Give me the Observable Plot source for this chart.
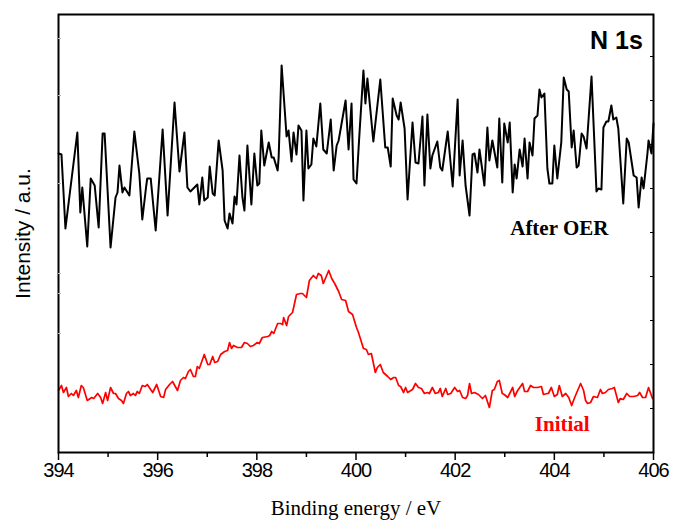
<!DOCTYPE html>
<html><head><meta charset="utf-8">
<script src="https://cdn.jsdelivr.net/npm/d3@7"></script>
<script src="https://cdn.jsdelivr.net/npm/@observablehq/plot@0.6"></script>
<style>
body{margin:0;background:#fff}
g[aria-label="x-axis tick label"] text{letter-spacing:-1px}
</style>
</head><body><div id="chart"></div>
<script>
// [binding energy (eV), intensity (a.u.)]
const afterOER = [
[394.00,299],[394.06,298],[394.14,224],[394.38,320],[394.44,240],[394.48,265],[394.58,206],[394.65,274],[394.73,267],[394.81,225],
[394.89,319],[394.93,319],[395.05,205],[395.15,255],[395.19,260],[395.23,287],[395.29,260],[395.33,265],[395.43,257],[395.53,321],
[395.63,279],[395.69,233],[395.77,267],[395.79,274],[395.86,274],[395.96,222],[396.10,323],[396.20,237],[396.34,350],[396.44,281],
[396.54,320],[396.60,265],[396.66,261],[396.72,264],[396.80,268],[396.84,248],[396.90,275],[396.94,252],[397.01,255],[397.05,286],
[397.11,259],[397.15,257],[397.23,312],[397.31,282],[397.35,232],[397.41,224],[397.45,239],[397.51,229],[397.55,256],[397.59,248],
[397.65,297],[397.71,255],[397.75,242],[397.81,307],[397.89,248],[397.95,299],[398.01,267],[398.05,269],[398.09,322],[398.15,287],
[398.24,310],[398.30,295],[398.34,295],[398.42,282],[398.44,295],[398.50,387],[398.60,316],[398.64,322],[398.70,291],[398.74,320],
[398.80,298],[398.84,327],[398.90,322],[398.94,252],[399.00,322],[399.04,284],[399.10,288],[399.14,314],[399.20,306],[399.28,349],
[399.34,303],[399.41,299],[399.49,333],[399.55,282],[399.61,307],[399.65,312],[399.79,352],[399.85,303],[399.91,349],[399.95,273],
[400.01,269],[400.07,319],[400.15,382],[400.19,349],[400.23,374],[400.35,311],[400.49,373],[400.59,305],[400.64,305],[400.70,286],
[400.74,354],[400.82,337],[400.86,333],[400.90,350],[400.98,324],[401.04,253],[401.14,330],[401.20,290],[401.26,289],[401.34,336],
[401.38,267],[401.44,338],[401.50,284],[401.54,297],[401.64,311],[401.70,285],[401.74,282],[401.85,321],[401.95,266],[402.05,353],
[402.09,277],[402.15,312],[402.21,267],[402.29,237],[402.35,298],[402.39,299],[402.45,280],[402.49,303],[402.59,267],[402.65,325],
[402.69,292],[402.75,312],[402.85,285],[402.89,334],[402.95,270],[402.99,329],[403.06,310],[403.10,330],[403.16,260],[403.20,288],
[403.24,274],[403.30,303],[403.36,286],[403.40,314],[403.46,274],[403.50,310],[403.56,297],[403.60,334],[403.66,337],[403.70,363],
[403.74,355],[403.80,359],[403.86,284],[403.90,269],[403.96,269],[404.00,307],[404.06,274],[404.14,310],[404.19,375],[404.25,363],
[404.29,361],[404.35,305],[404.39,322],[404.45,285],[404.49,287],[404.55,319],[404.59,316],[404.65,304],[404.75,376],[404.85,261],
[404.89,264],[404.95,263],[404.99,325],[405.05,331],[405.09,331],[405.15,347],[405.19,333],[405.25,335],[405.29,324],[405.39,249],
[405.46,314],[405.50,310],[405.60,277],[405.66,275],[405.70,245],[405.76,275],[405.80,264],[405.88,300],[405.90,312],[405.96,299],
[406.00,329]
];
const initial = [
[394.00,62],[394.06,67],[394.10,60],[394.16,65],[394.20,56],[394.26,59],[394.30,57],[394.36,62],[394.40,55],[394.46,67],
[394.50,65],[394.58,52],[394.67,55],[394.71,54],[394.79,59],[394.85,55],[394.89,49],[394.95,60],[394.99,52],[395.05,65],
[395.11,59],[395.15,59],[395.21,54],[395.27,52],[395.31,49],[395.37,59],[395.41,61],[395.45,57],[395.51,59],[395.55,57],
[395.59,61],[395.63,59],[395.69,67],[395.75,66],[395.79,68],[395.90,60],[395.98,68],[396.06,56],[396.12,55],[396.16,63],
[396.24,68],[396.30,71],[396.40,62],[396.46,72],[396.52,75],[396.56,74],[396.62,81],[396.66,83],[396.72,76],[396.76,76],
[396.80,86],[396.84,84],[396.94,98],[397.01,88],[397.05,88],[397.11,96],[397.15,90],[397.21,91],[397.27,98],[397.35,101],
[397.41,102],[397.45,110],[397.49,104],[397.53,107],[397.61,105],[397.69,105],[397.75,110],[397.81,109],[397.87,106],[397.93,107],
[398.01,110],[398.05,109],[398.11,115],[398.22,116],[398.26,117],[398.30,121],[398.34,119],[398.42,129],[398.48,129],[398.52,128],
[398.54,135],[398.60,127],[398.64,136],[398.72,140],[398.80,158],[398.88,159],[398.92,159],[399.00,155],[399.06,172],[399.14,177],
[399.20,174],[399.24,179],[399.30,177],[399.34,169],[399.45,182],[399.51,174],[399.57,169],[399.65,161],[399.71,153],[399.79,152],
[399.85,141],[399.93,138],[400.01,125],[400.05,120],[400.15,104],[400.21,103],[400.25,98],[400.31,99],[400.39,80],[400.43,85],
[400.49,88],[400.55,80],[400.64,76],[400.70,73],[400.76,75],[400.80,75],[400.86,67],[400.90,66],[400.96,60],[401.00,65],
[401.04,60],[401.14,63],[401.20,69],[401.26,65],[401.32,64],[401.38,59],[401.44,60],[401.48,59],[401.54,65],[401.60,59],
[401.66,60],[401.70,64],[401.74,56],[401.81,64],[401.85,58],[401.91,59],[401.99,65],[402.05,61],[402.09,62],[402.15,55],
[402.21,54],[402.25,57],[402.29,69],[402.33,59],[402.39,60],[402.47,58],[402.55,54],[402.61,57],[402.69,45],[402.75,62],
[402.79,63],[402.85,71],[402.89,72],[402.95,59],[402.99,58],[403.06,55],[403.16,65],[403.20,56],[403.26,62],[403.36,69],
[403.40,61],[403.46,61],[403.52,67],[403.58,65],[403.66,65],[403.74,66],[403.78,58],[403.86,59],[403.88,59],[403.94,65],
[404.00,56],[404.06,58],[404.10,67],[404.16,56],[404.23,59],[404.29,55],[404.35,47],[404.41,55],[404.47,62],[404.53,69],
[404.59,62],[404.63,52],[404.67,49],[404.73,50],[404.79,56],[404.87,55],[404.93,63],[404.97,59],[405.03,60],[405.09,63],
[405.17,64],[405.21,65],[405.29,50],[405.33,54],[405.39,53],[405.46,59],[405.52,56],[405.60,56],[405.68,57],[405.72,60],
[405.78,55],[405.84,55],[405.90,65],[405.98,54]
];
const xMajorTicks = [394, 396, 398, 400, 402, 404, 406];
const xMinorTicks = [395, 397, 399, 401, 403, 405];
const yRightTicks = [44, 88, 132, 176, 220, 264, 308, 352, 396];
const yLeftTicks = [414, 357, 269, 179, 159, 119];
const afterLabel = [{x: 404.10, y: 224, text: "After OER"}];
const initialLabel = [{x: 404.16, y: 28, text: "Initial"}];

const serif = "'Liberation Serif', 'Times New Roman', serif";
const chart = Plot.plot({
  width: 673, height: 523,
  marginLeft: 58, marginRight: 20, marginTop: 14, marginBottom: 71,
  x: {domain: [394, 406]},
  y: {domain: [0, 438]},
  style: {fontFamily: "'Liberation Sans', Arial, sans-serif", background: "white"},
  marks: [
    Plot.line(initial, {x: d => d[0], y: d => d[1], stroke: "#ff0000", strokeWidth: 1.7}),
    Plot.line(afterOER, {x: d => d[0], y: d => d[1], stroke: "black", strokeWidth: 2}),
    Plot.frame({stroke: "black", strokeWidth: 2}),
    Plot.axisX({ticks: xMajorTicks, tickSize: 8, tickPadding: 2, fontSize: 20, label: null, tickFormat: d => String(d), strokeWidth: 1.5}),
    Plot.axisX({ticks: xMinorTicks, tickSize: 5, tickFormat: () => "", label: null, strokeWidth: 1.5}),
    Plot.axisY({anchor: "right", ticks: yRightTicks, tickSize: -4, tickFormat: () => "", label: null}),
    Plot.axisY({anchor: "left", ticks: yLeftTicks, tickSize: -3, stroke: "#bbb", tickFormat: () => "", label: null}),
    Plot.text(afterLabel, {x: "x", y: "y", text: "text", fill: "black", fontFamily: serif, fontWeight: "bold", fontSize: 21}),
    Plot.text(initialLabel, {x: "x", y: "y", text: "text", fill: "#ff0000", fontFamily: serif, fontWeight: "bold", fontSize: 21}),
    Plot.text(["N 1s"], {frameAnchor: "top-right", dx: -37, dy: 26, textAnchor: "middle", lineAnchor: "middle", fontWeight: "bold", fontSize: 25, fill: "black"}),
    Plot.text(["Binding energy / eV"], {frameAnchor: "bottom", dy: 56, textAnchor: "middle", lineAnchor: "middle", fontSize: 21, fill: "black", fontFamily: serif}),
    Plot.text(["Intensity / a.u."], {frameAnchor: "left", dx: -35, rotate: -90, textAnchor: "middle", lineAnchor: "middle", fontSize: 21, fill: "black"})
  ]
});
document.getElementById("chart").appendChild(chart);
</script>
</body></html>
